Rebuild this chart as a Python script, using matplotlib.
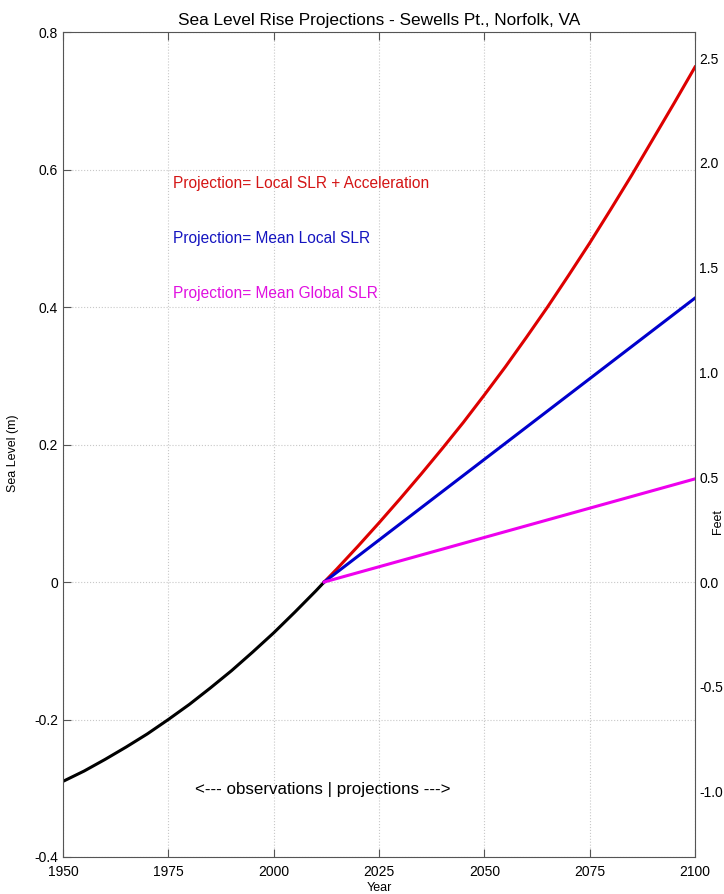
import matplotlib
matplotlib.use("Agg")
import matplotlib.pyplot as plt
import numpy as np

plt.rcParams['font.family'] = ['Liberation Sans', 'DejaVu Sans']

# observed record (m, relative to 2012)
obs_years = [1950, 1955, 1960, 1965, 1970, 1975, 1980, 1985, 1990, 1995, 2000, 2005, 2010, 2012]
obs_level = [-0.290, -0.275, -0.258, -0.240, -0.221, -0.200, -0.178, -0.154, -0.129, -0.102,
             -0.074, -0.044, -0.013, 0.0]

# projections
proj_years = [2012, 2015, 2020, 2025, 2030, 2035, 2040, 2045, 2050, 2055, 2060,
              2065, 2070, 2075, 2080, 2085, 2090, 2095, 2100]
accel_level = [0.000, 0.019, 0.052, 0.086, 0.121, 0.157, 0.194, 0.232, 0.272, 0.313, 0.356,
               0.400, 0.446, 0.493, 0.542, 0.592, 0.644, 0.696, 0.749]
lin_years = [2012, 2100]
local_level = [0.0, 0.413]
global_level = [0.0, 0.150]

labels = ['Projection= Local SLR + Acceleration',
          'Projection= Mean Local SLR',
          'Projection= Mean Global SLR']
label_colors = ['#d41515', '#1515c0', '#e010e0']

M_PER_FT = 0.3048

fig = plt.figure(figsize=(7.24, 8.94), dpi=100)
ax = fig.add_axes([63 / 724, 37 / 894, 632 / 724, 825 / 894])

ax.plot(obs_years, obs_level, color='black', lw=2.2)
ax.plot(proj_years, accel_level, color='#dd0000', lw=2.2)
ax.plot(lin_years, local_level, color='#0000cc', lw=2.2)
ax.plot(lin_years, global_level, color='#ee00ee', lw=2.2)

ax.set_xlim(1950, 2100)
ax.set_ylim(-0.4, 0.8)
ax.set_xticks([1950, 1975, 2000, 2025, 2050, 2075, 2100])
ax.set_yticks([-0.4, -0.2, 0, 0.2, 0.4, 0.6, 0.8])
ax.set_yticklabels(['-0.4', '-0.2', '0', '0.2', '0.4', '0.6', '0.8'])
ax.grid(True, ls=':', color='#c8c8c8', lw=0.8)
ax.tick_params(direction='in', length=6, top=True, right=True, labelsize=10,
               color='#555555')
ax.tick_params(axis='x', pad=6)
for s in ax.spines.values():
    s.set_color('#555555')

ax.set_title('Sea Level Rise Projections - Sewells Pt., Norfolk, VA', fontsize=12.4, pad=5)
ax.set_xlabel('Year', fontsize=9, labelpad=2)
ax.set_ylabel('Sea Level (m)', fontsize=9)
ax.yaxis.set_label_coords(-0.07, 0.49)

for i, (txt, c) in enumerate(zip(labels, label_colors)):
    ax.text(1976, 0.579 - 0.08 * i, txt, color=c, fontsize=11.2, va='center', ha='left')

ax.text(2011.7, -0.3025, '<--- observations | projections --->', fontsize=12.2,
        ha='center', va='center')

# right axis in feet
ax2 = ax.twinx()
ax2.set_ylim(-0.4 / M_PER_FT, 0.8 / M_PER_FT)
ax2.set_yticks(np.arange(-1.0, 2.51, 0.5))
ax2.set_yticklabels(['%.1f' % v for v in np.arange(-1.0, 2.51, 0.5)])
ax2.tick_params(length=0, labelsize=10, pad=3)
for s in ax2.spines.values():
    s.set_visible(False)
fig.text(718 / 724, 1 - 522 / 894, 'Feet', rotation=90, fontsize=9, ha='center', va='center')

fig.savefig('out.png', dpi=100)
